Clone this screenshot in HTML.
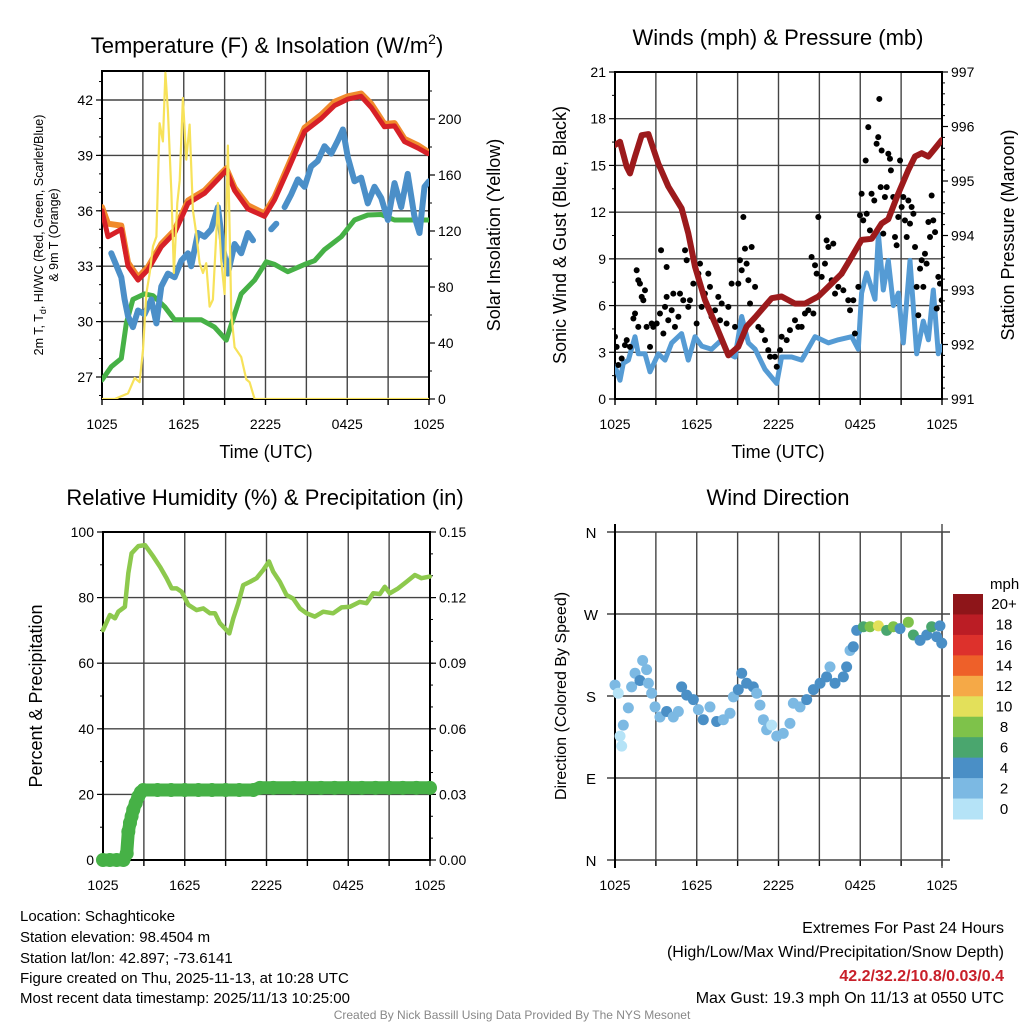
<!DOCTYPE html>
<html><head><meta charset="utf-8"><style>
html,body{margin:0;padding:0;background:#fff;}
svg{display:block;font-family:"Liberation Sans",Arial,sans-serif;}
</style></head><body>
<svg id="chart" width="1024" height="1024" viewBox="0 0 1024 1024" xmlns="http://www.w3.org/2000/svg">
<rect width="1024" height="1024" fill="#fff"/>
<text x="267" y="53" font-size="22" text-anchor="middle">Temperature (F) &amp; Insolation (W/m<tspan dy="-9" font-size="14">2</tspan><tspan dy="9">)</tspan></text>
<text x="778" y="45" font-size="22" text-anchor="middle">Winds (mph) &amp; Pressure (mb)</text>
<text x="265" y="505" font-size="22" text-anchor="middle">Relative Humidity (%) &amp; Precipitation (in)</text>
<text x="778" y="505" font-size="22" text-anchor="middle">Wind Direction</text>
<text x="266" y="458" font-size="18" text-anchor="middle">Time (UTC)</text>
<text x="778" y="458" font-size="18" text-anchor="middle">Time (UTC)</text>
<text transform="translate(43,235) rotate(-90)" font-size="12.5" text-anchor="middle">2m T, T<tspan dy="3" font-size="9">d</tspan><tspan dy="-3">, HI/WC (Red, Green, Scarlet/Blue)</tspan></text>
<text transform="translate(58,235) rotate(-90)" font-size="12.5" text-anchor="middle">&amp; 9m T (Orange)</text>
<text transform="translate(500,235) rotate(-90)" font-size="18" text-anchor="middle">Solar Insolation (Yellow)</text>
<text transform="translate(566,235) rotate(-90)" font-size="18" text-anchor="middle">Sonic Wind &amp; Gust (Blue, Black)</text>
<text transform="translate(1014,235) rotate(-90)" font-size="18" text-anchor="middle">Station Pressure (Maroon)</text>
<text transform="translate(42,696) rotate(-90)" font-size="18" text-anchor="middle">Percent &amp; Precipitation</text>
<text transform="translate(566,696) rotate(-90)" font-size="16" text-anchor="middle">Direction (Colored By Speed)</text>
<text x="990" y="589" font-size="15">mph</text>
<g font-size="15">
<text x="20" y="921">Location: Schaghticoke</text>
<text x="20" y="942">Station elevation: 98.4504 m</text>
<text x="20" y="963">Station lat/lon: 42.897; -73.6141</text>
<text x="20" y="983">Figure created on Thu, 2025-11-13, at 10:28 UTC</text>
<text x="20" y="1003">Most recent data timestamp: 2025/11/13 10:25:00</text>
</g>
<g font-size="16" text-anchor="end">
<text x="1004" y="933">Extremes For Past 24 Hours</text>
<text x="1004" y="957">(High/Low/Max Wind/Precipitation/Snow Depth)</text>
<text x="1004" y="981" fill="#c8202a" font-weight="bold">42.2/32.2/10.8/0.03/0.4</text>
<text x="1004" y="1003">Max Gust: 19.3 mph On 11/13 at 0550 UTC</text>
</g>
<text x="512" y="1019" font-size="12" fill="#888" text-anchor="middle">Created By Nick Bassill Using Data Provided By The NYS Mesonet</text>
</svg>
<script>
// ---------- data (hours since 1025 UTC) ----------
const timeTicks=["1025","1625","2225","0425","1025"];
const tempT=[0,0.44,1.42,1.91,2.64,3.37,4.35,5.33,6.31,7.53,8.51,9.12,9.73,10.71,11.93,12.67,13.64,14.87,16.09,17.07,18.04,19.02,19.76,20.73,21.47,22.2,23.18,23.91];
const tempRed=[36.0,34.6,35.0,33.0,32.25,32.8,34.05,34.8,36.4,36.95,37.7,38.2,37.1,36.1,35.7,36.6,38.2,40.3,41.0,41.7,42.05,42.2,41.6,40.55,40.6,39.75,39.4,39.1];
const tempOrange=[36.2,35.3,35.2,33.2,32.4,32.95,34.2,34.95,36.55,37.1,37.85,38.3,37.25,36.3,35.85,36.75,38.4,40.5,41.2,41.9,42.2,42.35,41.8,40.7,40.75,39.9,39.55,39.2];
const wcT=[0.68,1.42,1.66,1.91,2.27,2.64,3.13,3.62,3.99,4.35,4.84,5.33,5.82,6.31,6.55,7.04,7.53,8.02,8.51,8.88,9.24,9.73,10.22,10.71,11.08,11.6,12.42,12.79,13.1,13.4,13.89,14.38,14.87,15.35,15.84,16.33,16.82,17.31,17.68,18.04,18.53,19.02,19.51,20.0,20.49,20.98,21.47,21.96,22.44,22.93,23.3,23.67,23.99];
const wcBlue=[33.7,32.4,31.2,30.3,29.7,30.6,30.4,31.2,29.9,31.9,32.6,32.4,33.3,33.7,33.0,34.8,34.6,35.0,36.2,34.0,32.6,34.2,33.7,34.8,34.4,null,35.0,35.3,null,36.2,36.9,37.7,37.3,38.4,38.7,39.5,39.1,39.8,40.4,38.9,37.6,37.8,36.4,37.3,36.7,35.5,37.5,36.2,38.0,35.7,34.8,37.3,37.6];
const dewT=[0,0.68,1.42,1.78,2.27,3.13,3.74,4.6,5.33,6.31,7.29,8.26,9.12,9.73,10.22,11.2,12.05,12.67,13.64,14.87,15.6,16.33,17.56,18.53,19.51,20.49,21.47,22.44,23.99];
const dewGreen=[26.84,27.56,28.0,29.9,31.2,31.5,31.4,30.8,30.1,30.1,30.1,29.7,29.0,30.4,31.5,32.25,33.24,33.1,32.7,33.1,33.3,33.9,34.6,35.5,35.77,35.8,35.5,35.5,35.5];
const solarT=[0,0.93,1.91,2.4,2.76,3.01,3.25,3.5,3.74,3.99,4.23,4.47,4.65,4.84,5.09,5.28,5.53,5.7,5.94,6.19,6.43,6.67,6.92,7.16,7.41,7.65,7.9,8.14,8.51,8.75,9.0,9.24,9.49,9.73,10.22,10.59,10.83,11.2,24];
const solarW=[0,0,4,15,12,35,75,90,109,116,197,184,233,206,147,90,140,156,215,171,196,135,118,97,90,97,66,71,140,99,75,181,61,37,30,14,12,0,0];
const tempTicks=[27,30,33,36,39,42];
const solarTicks=[0,40,80,120,160,200];

const presT=[0,0.37,0.86,1.1,1.47,1.96,2.45,3.18,3.91,4.89,5.38,5.87,6.6,7.34,8.32,9.05,9.66,10.28,11.5,12.23,13.21,13.94,14.92,15.66,16.63,17.37,18.1,18.84,19.57,20.06,20.79,21.53,22.02,22.51,23.0,23.49,23.98];
const presMb=[995.66,995.72,995.26,995.14,995.45,995.84,995.86,995.32,994.9,994.5,994.04,993.43,992.82,992.39,991.8,991.96,992.33,992.5,992.85,992.88,992.75,992.75,992.88,993.06,993.3,993.61,993.92,993.94,994.22,994.3,994.77,995.2,995.45,995.51,995.45,995.6,995.75];
const windT=[0,0.37,0.61,0.98,1.47,1.71,2.2,2.57,3.18,3.67,4.16,4.89,5.38,5.87,6.36,7.09,7.83,8.32,8.81,9.3,9.79,10.28,11.01,11.87,12.23,12.97,13.7,14.68,15.66,16.39,17.37,17.86,18.1,18.47,19.08,19.33,19.69,20.06,20.43,20.8,21.16,21.65,22.14,22.63,23.0,23.36,23.73,23.98];
const windMph=[2.1,1.2,2.3,2.5,4.0,2.9,2.9,1.75,2.9,2.5,3.6,4.2,2.5,4.0,3.4,3.2,3.8,2.9,2.7,5.3,3.6,3.2,1.9,1.0,2.7,2.7,2.5,4.0,3.6,3.8,4.0,3.2,6.8,8.1,6.4,10.6,7.0,8.9,6.0,6.8,3.6,8.9,2.9,5.0,3.8,7.0,2.9,3.4];
const gustT=[0,0.12,0.24,0.49,0.73,0.86,1.1,1.35,1.47,1.59,1.71,1.83,1.96,2.08,2.2,1.71,2.32,2.57,2.69,2.81,3.06,3.3,3.38,3.55,3.67,3.79,3.79,3.91,4.16,4.28,4.4,4.65,4.77,5.01,5.14,5.26,5.38,5.5,5.75,5.99,6.12,6.24,6.36,6.6,6.85,6.97,7.09,7.34,7.58,7.71,7.83,8.19,8.32,8.56,8.81,9.05,9.17,9.3,9.42,9.54,9.66,9.79,9.91,10.03,10.28,10.52,10.76,11.01,11.25,11.38,11.74,11.87,12.11,12.23,12.6,12.84,13.21,13.45,13.7,13.94,14.19,14.43,14.56,14.68,14.8,14.92,15.17,15.41,15.53,15.66,15.9,16.02,16.15,16.39,16.63,16.76,17.12,17.25,17.49,17.61,17.86,17.98,18.1,18.22,18.4,18.47,18.59,18.71,18.83,19.03,19.2,19.32,19.4,19.5,19.57,19.69,19.81,19.94,20.06,20.18,20.25,20.42,20.55,20.67,20.79,20.92,21.04,21.16,21.28,21.41,21.53,21.65,21.77,21.9,22.02,22.14,22.26,22.39,22.51,22.63,22.75,22.87,23.0,23.12,23.24,23.36,23.49,23.61,23.73,23.85,23.98];
const gustMph=[4.0,3.35,2.18,2.6,3.46,3.78,3.35,5.17,5.49,8.27,7.63,7.41,6.56,6.34,6.98,4.63,4.63,3.35,4.85,4.63,4.85,5.49,9.55,4.21,5.92,8.48,6.56,5.06,5.7,6.77,4.63,5.28,6.77,6.34,9.55,8.91,5.92,6.34,7.41,4.85,8.05,8.69,5.92,6.77,8.05,7.2,5.28,5.7,6.56,5.06,6.13,4.85,5.92,7.41,4.63,7.41,8.91,8.27,11.69,9.66,8.69,7.63,6.13,9.76,7.2,4.63,4.42,3.78,3.14,2.71,2.71,2.07,3.14,4.0,3.78,4.42,5.06,4.63,4.63,5.49,5.7,9.12,5.49,8.59,8.05,11.69,7.84,8.69,10.19,9.76,7.63,9.98,6.77,7.2,8.05,6.98,6.34,5.7,6.34,4.21,7.2,11.8,13.18,11.47,15.32,11.9,17.46,10.83,13.18,12.75,16.39,16.82,19.27,13.61,15.96,10.62,12.97,13.61,15.75,15.43,14.68,12.97,10.4,9.87,11.69,15.32,12.33,12.97,11.47,10.4,12.75,11.26,12.33,11.9,9.76,7.2,5.38,8.37,8.91,7.2,9.33,8.69,11.37,10.4,13.07,11.47,10.72,5.81,7.84,7.41,6.34];
const windTicks=[0,3,6,9,12,15,18,21];
const presTicks=[991,992,993,994,995,996,997];

const rhT=[0,0.51,0.88,1.12,1.61,1.86,2.1,2.59,3.08,3.69,4.18,4.67,5.04,5.4,5.77,6.26,6.87,7.36,7.85,8.22,8.58,8.95,9.27,9.56,9.93,10.29,10.78,11.27,11.76,12.18,12.49,12.98,13.47,13.96,14.45,14.94,15.55,16.16,16.89,17.51,18.12,18.85,19.34,19.83,20.32,20.68,21.05,21.66,22.27,22.89,23.37,23.98];
const rhPct=[70.1,74.7,73.7,75.7,77.2,87.4,93.5,95.7,96.0,92.5,89.4,85.9,82.8,82.8,81.8,77.8,76.2,76.7,75.2,75.2,72.2,70.6,69.1,73.7,78.3,83.8,84.8,85.9,88.4,91.0,87.9,84.8,80.8,79.7,76.7,75.2,74.2,75.7,75.2,77.0,77.2,78.7,78.3,81.3,81.1,83.3,81.3,82.8,84.8,86.9,85.9,86.4];
const precipT=[0,0.5,1.0,1.5,1.74,1.86,1.98,2.1,2.22,2.4,2.59,2.78,2.96,4,5,6,7,8,9,10,11.03,11.52,12.5,14,15,16,17,18,19,20,21,22,23,24];
const precipIn=[0,0,0,0,0.003,0.013,0.017,0.02,0.023,0.026,0.029,0.031,0.032,0.032,0.032,0.032,0.032,0.032,0.032,0.032,0.032,0.033,0.033,0.033,0.033,0.033,0.033,0.033,0.033,0.033,0.033,0.033,0.033,0.033];
const rhTicks=[0,20,40,60,80,100];
const precipTicks=["0.00","0.03","0.06","0.09","0.12","0.15"];

const dirT=[0,0.24,0.37,0.49,0.61,0.98,1.22,1.47,1.83,2.03,2.32,2.45,2.69,2.94,3.3,3.79,4.28,4.65,4.89,5.26,5.75,6.12,6.48,6.97,7.46,7.95,8.44,8.69,9.05,9.3,9.66,10.15,10.4,10.64,10.89,11.13,11.5,11.87,12.35,12.84,13.09,13.58,14.07,14.56,15.05,15.53,15.78,16.15,16.76,17.0,17.25,17.49,17.74,18.23,18.72,19.33,19.94,20.43,20.92,21.53,21.9,22.39,22.88,23.24,23.61,23.85,23.98];
const dirDeg=[192,183,136,125,148,167,190,205,197,219,209,194,183,168,157,163,157,163,190,181,176,165,154,168,152,154,161,179,187,205,194,190,183,170,154,143,148,136,139,150,172,168,176,187,194,201,212,194,201,212,230,234,252,256,256,257,252,256,254,261,247,241,247,256,245,257,238];
const dirSpd=[2.5,1,0.5,0.5,2.5,2.5,2.5,3,4.5,2.5,2.5,3,2.5,2.5,3,4.5,2.5,3,4.5,4.5,4.5,2.5,4.5,3,4.5,2.5,2.5,3,4.5,4.5,4.5,4.5,2.5,2.5,2.5,2.5,1,2.5,3,2.5,2.5,2.5,4.5,4.5,4.5,4.5,2.5,4.5,4.5,4.5,2.5,4.5,4.5,7,8.5,10.5,7,8.5,4.5,8.5,7,4.5,4.5,7,4.5,4.5,4.5];
const cbLabels=["20+","18","16","14","12","10","8","6","4","2","0"];
const cbColors=["#8e1519","#bb1d25","#dd312c","#ee6029","#f5a947","#e3e05a","#7ec24a","#4aa66e","#4a8fc6","#7cb9e3","#b5e3f7"];

// ---------- helpers ----------
const NS="http://www.w3.org/2000/svg";
const svg=document.getElementById('chart');
function mk(tag,attrs,parent){const e=document.createElementNS(NS,tag);for(const k in attrs)e.setAttribute(k,attrs[k]);(parent||svg).appendChild(e);return e;}
function lin(d0,d1,r0,r1){return v=>r0+(v-d0)/(d1-d0)*(r1-r0);}
function pathOf(ts,vs,sx,sy){let d="",pen=false;for(let i=0;i<ts.length;i++){if(vs[i]===null){pen=false;continue;}d+=(pen?"L":"M")+sx(ts[i]).toFixed(1)+","+sy(vs[i]).toFixed(1);pen=true;}return d;}

function frame(x0,x1,y0,y1,name){
  const g=mk('g',{});
  
  
  const sx=lin(0,24,x0,x1);
  for(let h=0;h<=24;h+=3){const x=sx(h);
    const gl=mk('line',{x1:x,x2:x,y1:y0,y2:y1,stroke:'#444','stroke-width':1.4},g);
    
    
    mk('line',{x1:x,x2:x,y1:y1,y2:y1+6,stroke:'#000','stroke-width':1.4},g);}
  timeTicks.forEach((lab,i)=>{const t=mk('text',{x:sx(i*6),y:y1+30,'font-size':14,'text-anchor':'middle'},g);t.textContent=lab;
    
    });
  return {g,sx};
}
function hgrid(g,x0,x1,ys){ys.forEach(y=>{mk('line',{x1:x0,x2:x1,y1:y,y2:y,stroke:'#444','stroke-width':1.4},g);});}
function border(g,x0,x1,y0,y1){mk('rect',{x:x0,y:y0,width:x1-x0,height:y1-y0,fill:'none',stroke:'#000','stroke-width':2},g);}
function yTicks(g,x,labels,ys,side,minorYs){
  ys.forEach((y,i)=>{mk('line',{x1:x,x2:x+(side<0?-6:6),y1:y,y2:y,stroke:'#000','stroke-width':1.2},g);
    const t=mk('text',{x:x+(side<0?-9:9),y:y+5,'font-size':14,'text-anchor':side<0?'end':'start'},g);t.textContent=labels[i];
    
    });
  (minorYs||[]).forEach(y=>mk('line',{x1:x,x2:x+(side<0?-3:3),y1:y,y2:y,stroke:'#000','stroke-width':1},g));
}

// ---------- Panel 1: temperature ----------
(function(){
  const X0=102,X1=429,Y0=71,Y1=399;
  const {g,sx}=frame(X0,X1,Y0,Y1,'temp');
  const sy=lin(27,42,377,100);
  const sr=lin(0,200,399,119);
  hgrid(g,X0,X1,tempTicks.map(sy));
  const minors=[];for(let v=26;v<=43;v++)minors.push(sy(v));
  yTicks(g,X0,tempTicks,tempTicks.map(sy),-1,minors.filter(y=>y>=Y0&&y<=Y1));
  const rm=[];for(let v=0;v<=230;v+=20)rm.push(sr(v));
  yTicks(g,X1,solarTicks,solarTicks.map(sr),1,rm.filter(y=>y>=Y0));
  const cp=mk('clipPath',{id:'c1'});mk('rect',{x:X0,y:Y0-2,width:X1-X0,height:Y1-Y0+2},cp);
  const s=mk('g',{'clip-path':'url(#c1)','stroke-linejoin':'round','stroke-linecap':'round',fill:'none'});
  let p;
  p=mk('path',{d:pathOf(dewT,dewGreen,sx,sy),stroke:'#46b146','stroke-width':5},s);
  
  
  p=mk('path',{d:pathOf(wcT,wcBlue,sx,sy),stroke:'#4b8fc8','stroke-width':6},s);
  
  
  p=mk('path',{d:pathOf(tempT,tempOrange,sx,sy),stroke:'#f08a2c','stroke-width':6},s);
  
  
  p=mk('path',{d:pathOf(tempT,tempRed,sx,sy),stroke:'#d72027','stroke-width':5},s);
  
  
  p=mk('path',{d:pathOf(solarT,solarW,sx,sr),stroke:'#f7e25a','stroke-width':2.2},s);
  
  
  border(g,X0,X1,Y0,Y1);
})();

// ---------- Panel 2: winds ----------
(function(){
  const X0=615,X1=942,Y0=72,Y1=399;
  const {g,sx}=frame(X0,X1,Y0,Y1,'wind');
  const sy=lin(0,21,399,72);
  const sp=lin(991,997,399,72);
  hgrid(g,X0,X1,windTicks.map(sy));
  const lm=[];for(let v=1.5;v<21;v+=3)lm.push(sy(v));
  yTicks(g,X0,windTicks,windTicks.map(sy),-1,lm);
  const rm=[];for(let v=991;v<=997;v+=0.2)rm.push(sp(v));
  yTicks(g,X1,presTicks,presTicks.map(sp),1,rm);
  const cp=mk('clipPath',{id:'c2'});mk('rect',{x:X0,y:Y0,width:X1-X0,height:Y1-Y0},cp);
  const s=mk('g',{'clip-path':'url(#c2)','stroke-linejoin':'round','stroke-linecap':'round',fill:'none'});
  let p=mk('path',{d:pathOf(windT,windMph,sx,sy),stroke:'#559bd4','stroke-width':5},s);
  
  
  const dg=mk('g',{fill:'#000'},s);
  
  
  gustT.forEach((t,i)=>{mk('circle',{cx:sx(t),cy:sy(gustMph[i]),r:3},dg);});
  p=mk('path',{d:pathOf(presT,presMb,sx,sp),stroke:'#9c1a1c','stroke-width':6},s);
  
  
  border(g,X0,X1,Y0,Y1);
})();

// ---------- Panel 3: RH & precip ----------
(function(){
  const X0=103,X1=430,Y0=532,Y1=860;
  const {g,sx}=frame(X0,X1,Y0,Y1,'rh');
  const sy=lin(0,100,860,532);
  const sp=lin(0,0.15,860,532);
  hgrid(g,X0,X1,rhTicks.map(sy));
  const lm=[];for(let v=10;v<100;v+=20)lm.push(sy(v));
  yTicks(g,X0,rhTicks,rhTicks.map(sy),-1,lm);
  const rm=[];for(let v=0.01;v<0.15;v+=0.01)rm.push(sp(v));
  yTicks(g,X1,precipTicks,precipTicks.map(v=>sp(+v)),1,rm);
  const s=mk('g',{fill:'none','stroke-linejoin':'round','stroke-linecap':'round'});
  const pg=mk('g',{fill:'#46b146'},s);
  
  
  let p=mk('path',{d:pathOf(precipT,precipIn,sx,sp),stroke:'#46b146','stroke-width':13},s);
  
  
  precipT.forEach((t,i)=>{mk('circle',{cx:sx(t),cy:sp(precipIn[i]),r:7},pg);});
  p=mk('path',{d:pathOf(rhT,rhPct,sx,sy),stroke:'#8dc94d','stroke-width':4.5},s);
  
  
  border(g,X0,X1,Y0,Y1);
})();

// ---------- Panel 4: direction ----------
(function(){
  const X0=615,X1=942,Y0=532,Y1=860;
  const {g,sx}=frame(X0,X1,Y0,Y1,'direction');
  const sy=lin(0,360,860,532);
  const dirLabels=["N","E","S","W","N"];const dirVals=[0,90,180,270,360];
  hgrid(g,X0-8,X1+8,dirVals.map(sy));
  dirVals.forEach((v,i)=>{const t=mk('text',{x:591,y:sy(v)+6,'font-size':15,'text-anchor':'middle'},g);t.textContent=dirLabels[i];
    
    });
  mk('line',{x1:X0,x2:X0,y1:Y0-8,y2:Y1+8,stroke:'#000','stroke-width':2},g);
  mk('line',{x1:X1,x2:X1,y1:Y0-8,y2:Y1+8,stroke:'#444','stroke-width':1.4},g);
  const pg=mk('g',{});
  
  
  const colorFor=v=>cbColors[10-Math.min(10,Math.floor(v/2))];
  dirT.forEach((t,i)=>{mk('circle',{cx:sx(t),cy:sy(dirDeg[i]),r:5.5,fill:colorFor(dirSpd[i])},pg);});
  const cb=mk('g',{});
  
  
  const bh=(819-594)/cbColors.length;
  cbColors.forEach((c,i)=>{mk('rect',{x:953,y:594+i*bh,width:30,height:bh+0.5,fill:c},cb);
    const t=mk('text',{x:1004,y:594+i*bh+bh/2+5,'font-size':15,'text-anchor':'middle'},cb);t.textContent=cbLabels[i];});
})();
</script>
</body></html>
